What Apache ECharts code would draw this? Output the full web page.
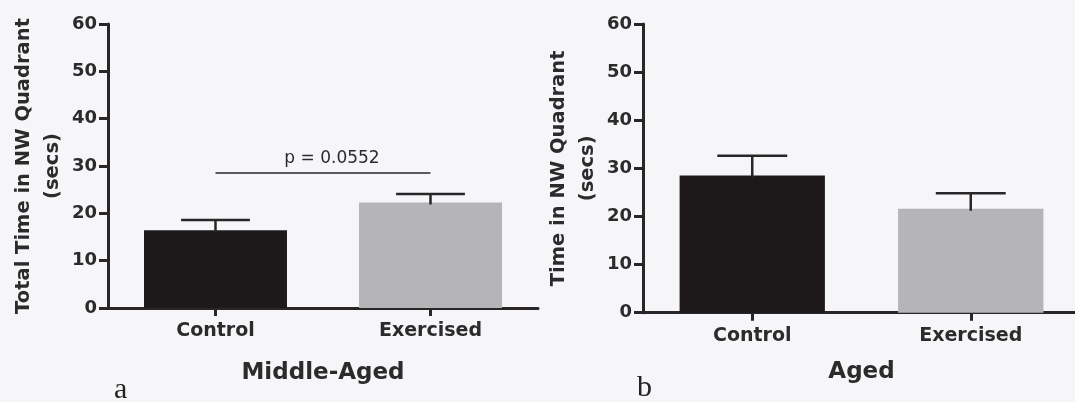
<!DOCTYPE html>
<html>
<head>
<meta charset="utf-8">
<script src="https://cdn.jsdelivr.net/npm/echarts@6/dist/echarts.min.js"></script>
<style>
  html, body { margin: 0; padding: 0; background: #f6f6f8; }
  #chart { width: 1075px; height: 402px; }
</style>
</head>
<body>
<div id="chart"></div>
<script>
// Groups on the x axis
const categories = ['Control', 'Exercised'];

// Middle-aged cohort: mean time (secs) and SEM
const middleAgedMeans = [16.4, 22.3];
const middleAgedSem = [2.2, 1.8];

// Aged cohort: mean time (secs) and SEM
const agedMeans = [28.5, 21.6];
const agedSem = [4.1, 3.2];

// Comparison bracket for the middle-aged panel
const pValueText = 'p = 0.0552';
const pBracketLevel = 28.5;

// Y axis range and step
const yMin = 0;
const yMax = 60;
const yStep = 10;

const barColors = ['#1d191b', '#b5b5b8'];
const ink = '#2a2628';
const textInk = '#2d2a2c';
const sansBold = { fontFamily: 'DejaVu Sans', fontWeight: 'bold', color: textInk };

function xAxisFor(gridIndex, title, nameGap) {
  return {
    type: 'category',
    gridIndex: gridIndex,
    data: categories,
    axisLine: { show: true, lineStyle: { color: ink, width: 3 } },
    axisTick: { show: true, alignWithLabel: true, length: 8, lineStyle: { color: ink, width: 3 } },
    axisLabel: Object.assign({ fontSize: 19, margin: 14 }, sansBold),
    name: title,
    nameLocation: 'middle',
    nameGap: nameGap,
    nameTextStyle: Object.assign({ fontSize: 23 }, sansBold)
  };
}

function yAxisFor(gridIndex, title) {
  return {
    type: 'value',
    gridIndex: gridIndex,
    min: yMin,
    max: yMax,
    interval: yStep,
    splitLine: { show: false },
    axisLine: { show: true, lineStyle: { color: ink, width: 3 } },
    axisTick: { show: true, length: 9, lineStyle: { color: ink, width: 3 } },
    axisLabel: Object.assign({ fontSize: 18, margin: 11 }, sansBold),
    name: title,
    nameLocation: 'middle',
    nameRotate: 90,
    nameGap: 41,
    nameTextStyle: Object.assign({ fontSize: 19.5, lineHeight: 29, align: 'center' }, sansBold)
  };
}

function barSeries(idx, means) {
  return {
    type: 'bar',
    xAxisIndex: idx,
    yAxisIndex: idx,
    barWidth: '66.5%',
    data: means.map((v, i) => ({ value: v, itemStyle: { color: barColors[i] } })),
    z: 2
  };
}

// Upper error whisker with a horizontal cap, drawn through the axis scales
function errorSeries(idx, means, sem) {
  return {
    type: 'custom',
    xAxisIndex: idx,
    yAxisIndex: idx,
    z: 3,
    data: means.map((m, i) => [i, m, m + sem[i]]),
    renderItem: function (params, api) {
      const x = api.value(0);
      const base = api.coord([x, api.value(1)]);
      const top = api.coord([x, api.value(2)]);
      const halfCap = api.size([1, 0])[0] * 0.16;
      const style = { stroke: ink, lineWidth: 2.5 };
      return {
        type: 'group',
        children: [
          { type: 'line', shape: { x1: base[0], y1: base[1] + 2, x2: top[0], y2: top[1] }, style: style },
          { type: 'line', shape: { x1: top[0] - halfCap, y1: top[1], x2: top[0] + halfCap, y2: top[1] }, style: style }
        ]
      };
    }
  };
}

const chart = echarts.init(document.getElementById('chart'), null, { renderer: 'canvas' });

const middleBars = barSeries(0, middleAgedMeans);
middleBars.markLine = {
  silent: true,
  symbol: ['none', 'none'],
  lineStyle: { color: ink, width: 1.5, type: 'solid' },
  label: {
    show: true,
    position: 'middle',
    formatter: pValueText,
    fontFamily: 'DejaVu Sans',
    fontSize: 17,
    color: textInk,
    distance: 6,
    offset: [9, 0]
  },
  data: [[
    { coord: [categories[0], pBracketLevel] },
    { coord: [categories[1], pBracketLevel] }
  ]]
};

chart.setOption({
  backgroundColor: '#f6f6f8',
  animation: false,
  grid: [
    { left: 108, top: 24, width: 430, height: 284, outerBoundsMode: 'none', containLabel: false },
    { left: 643, top: 24, width: 437, height: 288.7, outerBoundsMode: 'none', containLabel: false }
  ],
  xAxis: [
    xAxisFor(0, 'Middle-Aged', 54),
    xAxisFor(1, 'Aged', 48)
  ],
  yAxis: [
    yAxisFor(0, 'Total Time in NW Quadrant\n(secs)'),
    yAxisFor(1, 'Time in NW Quadrant\n(secs)')
  ],
  series: [
    middleBars,
    errorSeries(0, middleAgedMeans, middleAgedSem),
    barSeries(1, agedMeans),
    errorSeries(1, agedMeans, agedSem)
  ],
  graphic: [
    { type: 'text', left: 114, top: 375, style: { text: 'a', font: '30px "Liberation Serif"', fill: '#222' } },
    { type: 'text', left: 637, top: 373, style: { text: 'b', font: '30px "Liberation Serif"', fill: '#222' } }
  ]
});
</script>
</body>
</html>
